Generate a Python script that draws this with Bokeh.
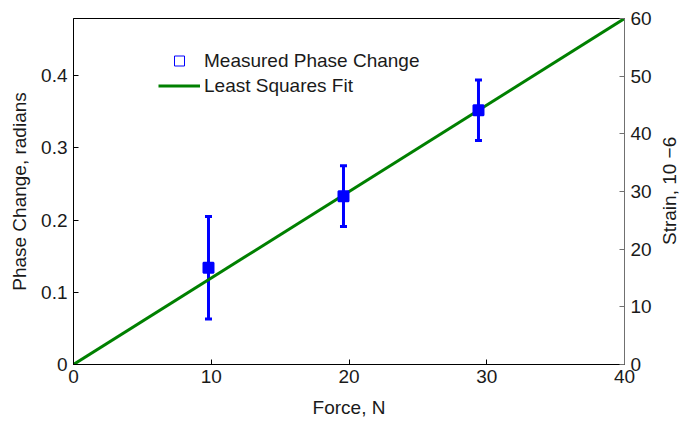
from bokeh.plotting import figure
from bokeh.layouts import row
from bokeh.models import (Range1d, LinearAxis, FixedTicker, Whisker, TeeHead,
                          ColumnDataSource, Legend, LegendItem, Div)
from bokeh.embed import file_html
from bokeh.resources import INLINE

# ---- data ----
force = [9.8, 19.6, 29.4]
phase = [0.134, 0.233, 0.352]
phase_err = [0.071, 0.042, 0.042]
fit_force = [0, 40]
fit_phase = [0, 0.479]
x_ticks = [0, 10, 20, 30, 40]
y_ticks = [0, 0.1, 0.2, 0.3, 0.4]
y_tick_labels = ["0", "0.1", "0.2", "0.3", "0.4"]
strain_ticks = [0, 10, 20, 30, 40, 50, 60]
strain_range = [0, 60]
strain_label = "Strain, 10 \u22126"

FONT = "Liberation Sans"
FS = "19px"
TXT = "#1a1a1a"

p = figure(width=660, height=421, output_backend="svg", toolbar_location=None,
           x_range=Range1d(0, 40), y_range=Range1d(0, fit_phase[1]),
           min_border_left=73, min_border_right=36, min_border_top=18,
           min_border_bottom=57)
p.xgrid.visible = False
p.ygrid.visible = False
p.outline_line_color = "black"
p.outline_line_width = 1
p.background_fill_color = "white"
p.border_fill_color = "white"

p.extra_y_ranges = {"strain": Range1d(strain_range[0], strain_range[1])}


def style_axis(ax, color="black"):
    ax.axis_line_color = color
    ax.axis_line_width = 1
    ax.major_tick_line_color = color
    ax.major_tick_in = 5
    ax.major_tick_out = 0
    ax.minor_tick_line_color = None
    ax.major_label_text_font = FONT
    ax.major_label_text_font_size = FS
    ax.major_label_text_color = TXT
    ax.axis_label_text_font = FONT
    ax.axis_label_text_font_size = FS
    ax.axis_label_text_font_style = "normal"
    ax.axis_label_text_color = TXT


xa = p.xaxis[0]
xa.ticker = FixedTicker(ticks=x_ticks)
xa.axis_label = "Force, N"
style_axis(xa)
xa.major_label_standoff = 5
xa.axis_label_standoff = 11

ya = p.yaxis[0]
ya.ticker = FixedTicker(ticks=y_ticks)
ya.major_label_overrides = {t: l for t, l in zip(y_ticks, y_tick_labels)}
ya.axis_label = "Phase Change, radians"
style_axis(ya)
ya.major_label_standoff = 6
ya.axis_label_standoff = 8

ra = LinearAxis(y_range_name="strain", ticker=FixedTicker(ticks=strain_ticks))
style_axis(ra, color="#707070")
ra.major_label_standoff = 6
p.add_layout(ra, "right")

# least squares fit
fit_line = p.line(fit_force, fit_phase, line_color="#008000", line_width=3)

# error bars
src = ColumnDataSource(dict(
    x=force,
    y=phase,
    upper=[v + e for v, e in zip(phase, phase_err)],
    lower=[v - e for v, e in zip(phase, phase_err)],
))
wh = Whisker(source=src, base="x", upper="upper", lower="lower",
             line_color="blue", line_width=3,
             upper_head=TeeHead(size=7, line_color="blue", line_width=3),
             lower_head=TeeHead(size=7, line_color="blue", line_width=3))
p.add_layout(wh)

# thin open square (legend proxy, hidden under the thick markers)
leg_marker = p.scatter("x", "y", source=src, marker="square", size=9,
                       fill_color=None, line_color="blue", line_width=1)
p.scatter("x", "y", source=src, marker="square", size=10,
          fill_color="blue", line_color="blue", line_width=2)

legend = Legend(items=[
    LegendItem(label="Measured Phase Change", renderers=[leg_marker]),
    LegendItem(label="Least Squares Fit", renderers=[fit_line]),
], location=(85, 266))
legend.border_line_color = None
legend.background_fill_alpha = 0
legend.padding = 0
legend.margin = 0
legend.spacing = 0
legend.glyph_width = 42
legend.glyph_height = 25
legend.label_height = 25
legend.label_standoff = 4
legend.label_text_font = FONT
legend.label_text_font_size = FS
legend.label_text_color = TXT
p.add_layout(legend)

# right-hand axis title, reading upwards as in the reference
right_title = Div(
    text=('<div style="margin-top:18px; height:346px; writing-mode:vertical-rl; '
          'transform:rotate(180deg); text-align:center; white-space:nowrap; '
          'font-family:\'Liberation Sans\'; font-size:19px; line-height:20px; '
          'color:%s">%s</div>' % (TXT, strain_label)),
    width=20, height=421, margin=0)

layout = row(p, right_title, spacing=0)

open("out.html", "w").write(file_html(layout, INLINE))
